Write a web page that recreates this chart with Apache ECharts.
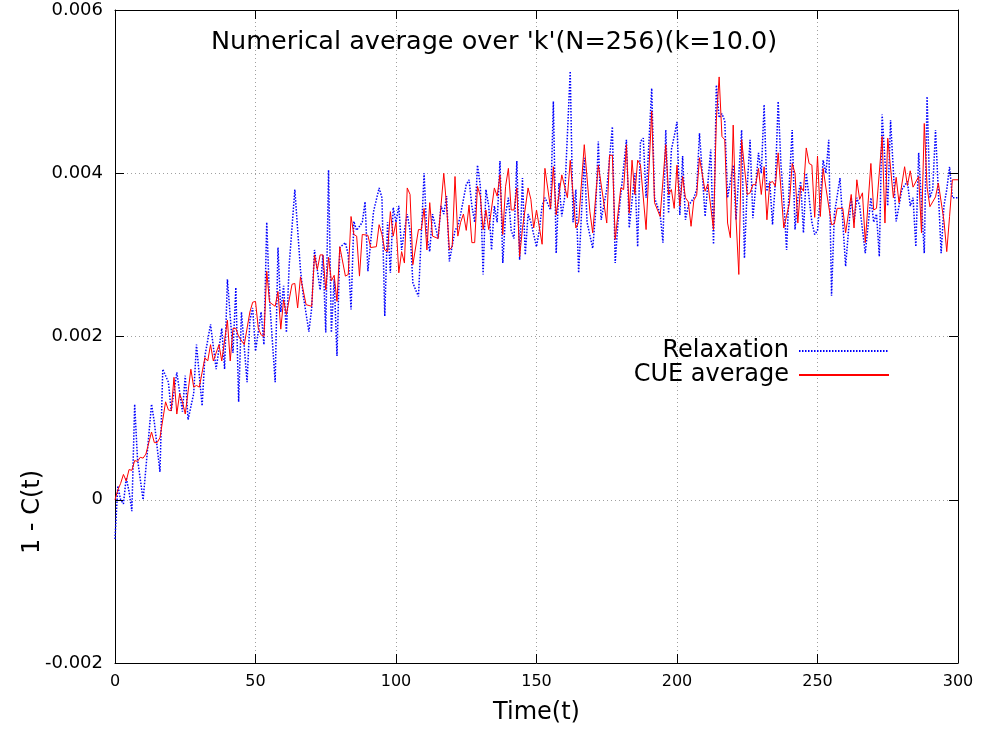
<!DOCTYPE html>
<html><head><meta charset="utf-8">
<script src="https://cdn.jsdelivr.net/npm/echarts@6/dist/echarts.min.js"></script>
<style>html,body{margin:0;padding:0;background:#fff}#c{width:982px;height:730px}</style>
</head><body><div id="c"></div>
<script>
var titleText = "Numerical average over 'k'(N=256)(k=10.0)";
var seriesNames = ['Relaxation', 'CUE average'];
var xTicks = [0, 50, 100, 150, 200, 250, 300];
var yTicks = [-0.002, 0, 0.002, 0.004, 0.006];

var relaxData = [[0,-0.00048],[1,0.00017],[2,0.0],[3,-0.00005],[4,0.00027],[5,0.0001],[6,-0.00014],[7,0.00117],[8,0.0005],[10,0.0],[13,0.00117],[14,0.00095],[16,0.00034],[17,0.0016],[19,0.00144],[20,0.00109],[22,0.00156],[24,0.00108],[25,0.00152],[26,0.00098],[28,0.0013],[29,0.0019],[31,0.00115],[32,0.00176],[34,0.00215],[36,0.0016],[38,0.0021],[39,0.0016],[40,0.0027],[42,0.0018],[43,0.0026],[44,0.0012],[45,0.0023],[47,0.00144],[48,0.0022],[49,0.00235],[50,0.00182],[52,0.0023],[53,0.0019],[54,0.0034],[55,0.00245],[57,0.00144],[58,0.00309],[59,0.0023],[60,0.00262],[61,0.00205],[62,0.00288],[64,0.0038],[66,0.00282],[67,0.0025],[69,0.00206],[70,0.00235],[71,0.00306],[73,0.00257],[74,0.003],[75,0.00205],[76,0.00404],[77,0.00205],[78,0.0027],[79,0.00176],[80,0.00309],[82,0.00315],[83,0.003],[84,0.00233],[85,0.00341],[86,0.0033],[88,0.0034],[89,0.00365],[90,0.0028],[92,0.00353],[94,0.00382],[95,0.0037],[96,0.00225],[97,0.0034],[98,0.00278],[99,0.00358],[100,0.0034],[101,0.0036],[102,0.00306],[103,0.0033],[104,0.0035],[105,0.0033],[106,0.00266],[107,0.00257],[108,0.00249],[110,0.004],[111,0.00323],[112,0.00304],[113,0.0035],[115,0.0032],[116,0.0036],[117,0.0035],[118,0.00372],[119,0.00292],[121,0.0033],[122,0.00335],[123,0.0035],[125,0.00386],[126,0.00392],[127,0.0036],[128,0.0034],[129,0.0041],[130,0.00385],[131,0.00276],[132,0.0038],[133,0.0036],[134,0.00306],[135,0.0036],[136,0.0034],[137,0.00415],[138,0.0029],[139,0.0035],[140,0.0037],[141,0.0033],[142,0.0032],[143,0.00415],[144,0.00294],[145,0.00394],[146,0.003],[147,0.0035],[148,0.0034],[150,0.0031],[151,0.0033],[152,0.0036],[153,0.0037],[155,0.00355],[156,0.00488],[157,0.00302],[158,0.00388],[159,0.00347],[160,0.0037],[162,0.00525],[163,0.0034],[164,0.0038],[165,0.00278],[166,0.0035],[167,0.00419],[168,0.0034],[170,0.00308],[171,0.0035],[172,0.00439],[173,0.00343],[175,0.0038],[177,0.00457],[178,0.0029],[179,0.0034],[182,0.00441],[183,0.00333],[185,0.004],[186,0.0031],[187,0.00439],[188,0.00443],[189,0.0037],[191,0.00504],[192,0.0037],[194,0.0035],[195,0.00315],[196,0.00453],[197,0.00351],[198,0.00429],[199,0.00445],[200,0.00463],[201,0.00349],[202,0.00421],[203,0.00343],[204,0.0036],[206,0.0037],[207,0.0038],[208,0.00449],[209,0.004],[210,0.00347],[212,0.00429],[213,0.00313],[214,0.00508],[215,0.00468],[216,0.00473],[217,0.00464],[218,0.0037],[219,0.0039],[220,0.0041],[221,0.00343],[223,0.00453],[224,0.00296],[225,0.00384],[226,0.00441],[227,0.00345],[228,0.00383],[229,0.00425],[230,0.004],[231,0.00484],[232,0.00378],[233,0.0039],[234,0.00337],[235,0.0039],[236,0.00488],[237,0.0041],[238,0.00366],[239,0.00306],[240,0.0039],[241,0.00453],[242,0.00331],[243,0.0037],[244,0.0039],[245,0.00327],[246,0.004],[247,0.0037],[248,0.0034],[249,0.00325],[250,0.0033],[251,0.0037],[252,0.00416],[253,0.004],[254,0.00441],[255,0.0025],[256,0.0035],[258,0.00394],[260,0.00286],[262,0.0037],[263,0.0034],[264,0.0037],[265,0.0036],[267,0.00302],[269,0.0037],[270,0.0034],[271,0.0035],[272,0.00298],[273,0.00472],[275,0.0036],[276,0.00465],[278,0.00341],[279,0.0036],[280,0.0038],[282,0.0039],[283,0.0036],[284,0.0037],[285,0.0031],[286,0.00425],[288,0.00302],[289,0.00494],[290,0.0037],[291,0.0038],[292,0.00453],[294,0.00302],[295,0.0036],[296,0.0038],[297,0.00408],[298,0.0037],[299,0.0037],[300,0.0037]];

var cueData = [[0,0],[1,0.00012],[2,0.0002],[3,0.00031],[4,0.00023],[5,0.00037],[6,0.00036],[7,0.00048],[8,0.00047],[9,0.00052],[10,0.00051],[11,0.00056],[13,0.00083],[14,0.0007],[15,0.0007],[16,0.00076],[18,0.0012],[19,0.0011],[20,0.00109],[21,0.0015],[22,0.00105],[23,0.0013],[24,0.0012],[25,0.00105],[27,0.0016],[28,0.00138],[29,0.0014],[30,0.00138],[32,0.00174],[33,0.0017],[34,0.0019],[35,0.0017],[37,0.0019],[38,0.0017],[40,0.0022],[41,0.0017],[42,0.0021],[43,0.0021],[44,0.002],[46,0.0019],[48,0.0023],[49,0.00242],[50,0.00243],[51,0.0021],[52,0.00202],[53,0.002],[54,0.0028],[55,0.00242],[57,0.00237],[58,0.00255],[59,0.00209],[60,0.00245],[61,0.00227],[63,0.00264],[64,0.00265],[65,0.00235],[66,0.00273],[68,0.00239],[70,0.00237],[71,0.003],[72,0.00282],[73,0.003],[74,0.003],[75,0.00257],[76,0.00297],[77,0.00268],[78,0.00275],[79,0.00243],[80,0.0031],[82,0.00274],[83,0.00276],[84,0.00347],[85,0.00325],[86,0.00323],[87,0.00274],[88,0.00325],[90,0.00324],[91,0.00309],[93,0.0031],[94,0.00337],[95,0.00325],[96,0.00306],[97,0.00304],[98,0.00353],[99,0.00323],[100,0.0034],[101,0.00278],[102,0.00304],[103,0.0029],[104,0.00382],[105,0.00374],[106,0.00288],[108,0.00331],[109,0.00331],[110,0.00357],[111,0.00306],[112,0.00364],[113,0.00323],[115,0.0032],[117,0.004],[118,0.0036],[119,0.00306],[120,0.0031],[121,0.00396],[122,0.00323],[123,0.0034],[124,0.0035],[125,0.0033],[126,0.00361],[127,0.00315],[128,0.00315],[129,0.00384],[130,0.00372],[131,0.00331],[132,0.00355],[133,0.00331],[135,0.00382],[136,0.00372],[137,0.00398],[138,0.00325],[139,0.00384],[140,0.00406],[141,0.00355],[142,0.00355],[143,0.00382],[144,0.00298],[145,0.00332],[147,0.00382],[148,0.00368],[149,0.00333],[150,0.00355],[152,0.00313],[153,0.00406],[155,0.00357],[156,0.00408],[157,0.00349],[159,0.00398],[161,0.0037],[162,0.00416],[164,0.00333],[165,0.0034],[167,0.00435],[169,0.00353],[170,0.00327],[172,0.0041],[175,0.00339],[176,0.00422],[177,0.00422],[178,0.00319],[180,0.00382],[181,0.0038],[182,0.00435],[183,0.00351],[184,0.00416],[185,0.00374],[186,0.00416],[187,0.0041],[189,0.00331],[191,0.00476],[192,0.00364],[194,0.00347],[196,0.00435],[197,0.00374],[198,0.0038],[199,0.00357],[200,0.0041],[201,0.0036],[202,0.00396],[203,0.0037],[204,0.00365],[205,0.00335],[206,0.00367],[207,0.00373],[208,0.00419],[210,0.00378],[211,0.00387],[213,0.00331],[214,0.00465],[215,0.00518],[216,0.00445],[217,0.00441],[218,0.00339],[219,0.00321],[220,0.00459],[221,0.00345],[222,0.00276],[223,0.00441],[225,0.00374],[226,0.00376],[227,0.00386],[228,0.00386],[229,0.00406],[230,0.00374],[231,0.00408],[232,0.00343],[233,0.00388],[234,0.0039],[235,0.00384],[236,0.00425],[237,0.0038],[238,0.00333],[240,0.00363],[241,0.00412],[242,0.004],[243,0.00339],[244,0.00384],[245,0.00378],[246,0.00431],[247,0.00412],[248,0.0041],[249,0.00346],[250,0.00421],[251,0.00347],[252,0.00406],[253,0.00382],[255,0.00337],[256,0.00338],[257,0.00357],[259,0.00357],[260,0.00327],[262,0.00374],[263,0.00333],[264,0.00392],[265,0.00368],[266,0.00376],[267,0.00315],[269,0.00412],[270,0.00355],[271,0.00357],[273,0.00445],[274,0.00339],[275,0.00443],[277,0.0037],[278,0.00395],[279,0.00364],[281,0.00408],[282,0.00385],[283,0.00403],[284,0.00383],[286,0.00396],[287,0.00327],[288,0.00461],[289,0.00383],[290,0.00359],[292,0.00371],[293,0.00388],[295,0.00342],[296,0.00304],[297,0.00347],[298,0.00392],[300,0.00392]];

var FONT = "'DejaVu Sans', sans-serif";
var chart = echarts.init(document.getElementById('c'), null, {renderer: 'canvas'});
var splitStyle = {show: true, lineStyle: {color: '#a0a0a0', type: [1, 3], width: 1}};
var axisLineStyle = {show: true, onZero: false, lineStyle: {color: '#000', width: 1}};
var tickStyle = {show: true, inside: true, length: 9, lineStyle: {color: '#000', width: 1}};
var xMin = xTicks[0], xMax = xTicks[xTicks.length - 1], xStep = xTicks[1] - xTicks[0];
var yMin = yTicks[0], yMax = yTicks[yTicks.length - 1], yStep = yTicks[1] - yTicks[0];
function yFmt(v) { return Math.abs(v) < 1e-12 ? '0' : v.toFixed(3); }

chart.setOption({
  animation: false,
  backgroundColor: '#fff',
  title: {
    text: titleText, left: 206, top: 24,
    textStyle: {fontFamily: FONT, fontSize: 25.5, fontWeight: 'normal', color: '#000'}
  },
  grid: {left: 115, right: 24, top: 10, bottom: 63, containLabel: false},
  legend: {
    data: seriesNames, orient: 'vertical', right: 87, top: 334, align: 'right',
    itemWidth: 90, itemHeight: 14, itemGap: 0,
    itemStyle: {opacity: 0},
    textStyle: {fontFamily: FONT, fontSize: 24, lineHeight: 24, color: '#000', padding: [0, 5, 0, 0]}
  },
  xAxis: [
    {type: 'value', min: xMin, max: xMax, interval: xStep, position: 'bottom',
     axisLine: axisLineStyle, axisTick: tickStyle, splitLine: splitStyle,
     axisLabel: {fontFamily: FONT, fontSize: 16, color: '#000', margin: 11},
     name: 'Time(t)', nameLocation: 'middle', nameGap: 38,
     nameTextStyle: {fontFamily: FONT, fontSize: 24, color: '#000'}},
    {type: 'value', min: xMin, max: xMax, interval: xStep, position: 'top',
     axisLine: axisLineStyle, axisTick: tickStyle, splitLine: {show: false},
     axisLabel: {show: false}}
  ],
  yAxis: [
    {type: 'value', min: yMin, max: yMax, interval: yStep, position: 'left',
     axisLine: axisLineStyle, axisTick: tickStyle, splitLine: splitStyle,
     axisLabel: {fontFamily: FONT, fontSize: 18, color: '#000', margin: 12, formatter: yFmt}},
    {type: 'value', min: yMin, max: yMax, interval: yStep, position: 'right',
     axisLine: axisLineStyle, axisTick: tickStyle, splitLine: {show: false},
     axisLabel: {show: false}}
  ],
  graphic: [{
    type: 'text', x: 33, y: 512, rotation: Math.PI / 2,
    style: {text: '1 - C(t)', x: 0, y: 0, align: 'center', verticalAlign: 'middle',
            font: "24px 'DejaVu Sans', sans-serif", fill: '#000'}
  }],
  series: [
    {name: seriesNames[0], type: 'line', data: relaxData, symbol: 'none', showSymbol: false,
     xAxisIndex: 0, yAxisIndex: 0, z: 2,
     lineStyle: {color: '#0000ff', width: 1.5, type: [1.5, 1.5]}, itemStyle: {color: '#0000ff'}},
    {name: seriesNames[1], type: 'line', data: cueData, symbol: 'none', showSymbol: false,
     xAxisIndex: 0, yAxisIndex: 0, z: 3,
     lineStyle: {color: '#ff0000', width: 1}, itemStyle: {color: '#ff0000'}}
  ]
});
</script></body></html>
